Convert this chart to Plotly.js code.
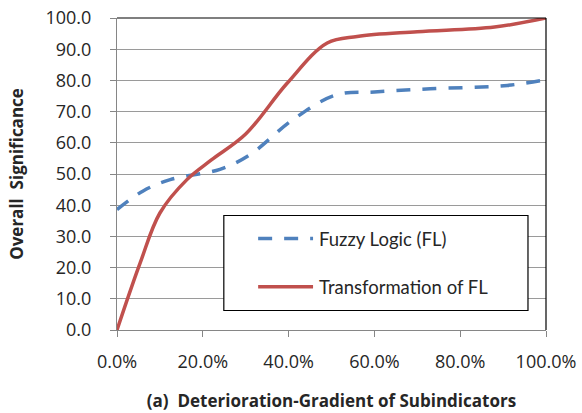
<!DOCTYPE html>
<html>
<head>
<meta charset="utf-8">
<script src="https://cdn.plot.ly/plotly-3.0.1.min.js"></script>
<style>html,body{margin:0;padding:0;background:#fff;}#chart{width:582px;height:413px;}</style>
</head>
<body>
<div id="chart"></div>
<script>
var flX = [0, 0.06, 0.124, 0.24, 0.31, 0.41, 0.51, 0.60, 0.73, 0.91, 1.00];
var flY = [38.6, 44.5, 48.2, 51.5, 56.2, 67.4, 75.3, 76.3, 77.3, 78.4, 80.2];
var tfX = [0, 0.054, 0.10, 0.163, 0.22, 0.30, 0.396, 0.49, 0.56, 0.70, 0.88, 1.00];
var tfY = [0, 21.5, 37.5, 48.2, 54.5, 62.8, 79, 92, 94.1, 95.6, 97.1, 100];
var seriesNames = ["Fuzzy Logic (FL)", "Transformation of FL"];
var xTicks = [0, 0.2, 0.4, 0.6, 0.8, 1.0];
var yTicks = [0, 10, 20, 30, 40, 50, 60, 70, 80, 90, 100];
var xTitle = "(a)  Deterioration-Gradient of Subindicators";
var yTitle = "Overall  Significance";

var blue = "#4F81BD", red = "#C0504D";
var font = "Lato, 'Open Sans', sans-serif";
var tfont = "'Open Sans', Lato, sans-serif";

var traces = [
  {x: flX, y: flY, name: seriesNames[0], mode: "lines", line: {color: blue, width: 3.5, dash: "14px,12px", shape: "spline", smoothing: 1}, showlegend: false, hoverinfo: "skip"},
  {x: tfX, y: tfY, name: seriesNames[1], mode: "lines", line: {color: red, width: 3.5, shape: "spline", smoothing: 1}, showlegend: false, hoverinfo: "skip"}
];

var layout = {
  width: 582, height: 413,
  margin: {l: 117, r: 36, t: 18, b: 82.5},
  paper_bgcolor: "#fff", plot_bgcolor: "#fff",
  font: {family: font, color: "#262626", size: 18},
  xaxis: {
    range: [0, 1], tickvals: xTicks, tickformat: ".1%",
    showgrid: false, zeroline: false, showline: true, linecolor: "#868686", linewidth: 1,
    ticks: "outside", ticklen: 6, tickcolor: "#868686", ticklabelstandoff: 9,
    tickfont: {size: 18, family: tfont, color: "#262626"},
    title: {text: xTitle, font: {size: 17, family: tfont, color: "#262626", weight: "bold"}, standoff: 23}
  },
  yaxis: {
    range: [0, 100], tickvals: yTicks, tickformat: ".1f",
    showgrid: true, gridcolor: "#9a9a9a", gridwidth: 1, zeroline: false,
    showline: true, linecolor: "#868686", linewidth: 1,
    ticks: "outside", ticklen: 6, tickcolor: "#868686", ticklabelstandoff: 15,
    tickfont: {size: 18, family: tfont, color: "#262626"},
    title: {text: yTitle, font: {size: 17, family: tfont, color: "#262626", weight: "bold"}, standoff: 17}
  },
  shapes: [
    {type: "line", xref: "paper", yref: "paper", x0: 0, x1: 1, y0: 1, y1: 1, line: {color: "#000", width: 1.2}},
    {type: "line", xref: "paper", yref: "paper", x0: 1, x1: 1, y0: 0, y1: 1, line: {color: "#000", width: 1.2}},
    {type: "rect", xref: "paper", yref: "paper", x0: 0.249, x1: 0.958, y0: 0.0625, y1: 0.367, line: {color: "#000", width: 1.2}, fillcolor: "#fff", layer: "above"},
    {type: "line", xref: "paper", yref: "paper", x0: 0.329, x1: 0.457, y0: 0.293, y1: 0.293, line: {color: blue, width: 3.5, dash: "14px,12px"}, layer: "above"},
    {type: "line", xref: "paper", yref: "paper", x0: 0.329, x1: 0.457, y0: 0.139, y1: 0.139, line: {color: red, width: 3.5}, layer: "above"}
  ],
  annotations: [
    {xref: "paper", yref: "paper", x: 0.466, y: 0.293, xanchor: "left", yanchor: "middle", text: seriesNames[0], showarrow: false, font: {size: 18.5, family: font, color: "#262626"}},
    {xref: "paper", yref: "paper", x: 0.466, y: 0.139, xanchor: "left", yanchor: "middle", text: seriesNames[1], showarrow: false, font: {size: 18.5, family: font, color: "#262626"}}
  ]
};

Plotly.newPlot("chart", traces, layout, {staticPlot: true, displayModeBar: false});
</script>
</body>
</html>
